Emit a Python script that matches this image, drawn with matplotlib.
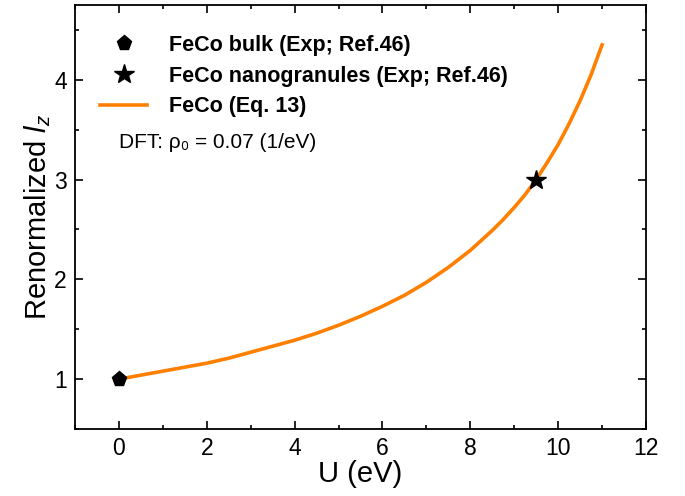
import matplotlib
matplotlib.use('Agg')
import matplotlib.pyplot as plt
from matplotlib.ticker import MultipleLocator

plt.rcParams['font.family'] = ['Liberation Sans', 'DejaVu Sans']
plt.rcParams['mathtext.fontset'] = 'custom'
plt.rcParams['mathtext.rm'] = 'Liberation Sans'
plt.rcParams['mathtext.it'] = 'Liberation Sans:italic'

# curve
u_curve = [0, 0.5, 1, 1.5, 2, 2.5, 3, 3.5, 4, 4.5, 5, 5.5, 6, 6.5, 7, 7.5,
           8, 8.25, 8.5, 8.75, 9, 9.25, 9.5, 9.75, 10, 10.25, 10.5, 10.75, 11]
lz_curve = [1.00, 1.04, 1.08, 1.12, 1.16, 1.21, 1.27, 1.33, 1.39, 1.46, 1.54,
            1.63, 1.73, 1.84, 1.97, 2.12, 2.29, 2.39, 2.49, 2.60, 2.72, 2.85,
            3.00, 3.17, 3.35, 3.56, 3.79, 4.05, 4.35]

u_bulk = [0]
lz_bulk = [1]
u_nano = [9.5]
lz_nano = [3]

fig = plt.figure(figsize=(6.85, 4.96), dpi=100)
ax = fig.add_axes([0.1095, 0.135, 0.8335, 0.855])

ax.plot(u_bulk, lz_bulk, linestyle='none', marker='p', color='black',
        markersize=11, label='FeCo bulk (Exp; Ref.46)', zorder=3)
ax.plot(u_nano, lz_nano, linestyle='none', marker='*', color='black',
        markersize=15, label='FeCo nanogranules (Exp; Ref.46)', zorder=3)
ax.plot(u_curve, lz_curve, color='#ff8000', lw=2.6, label='FeCo (Eq. 13)', zorder=2)

ax.set_xlim(-1, 12)
ax.set_ylim(0.5, 4.75)
ax.xaxis.set_major_locator(MultipleLocator(2))
ax.xaxis.set_minor_locator(MultipleLocator(1))
ax.yaxis.set_major_locator(MultipleLocator(1))
ax.yaxis.set_minor_locator(MultipleLocator(0.5))
ax.tick_params(which='both', direction='in', top=True, right=True, width=1.2)
ax.tick_params(which='major', length=6, labelsize=16.5, pad=6)
ax.tick_params(which='minor', length=3)
ax.tick_params(axis='x', labeltop=False)
ax.tick_params(axis='y', labelright=False)
for s in ax.spines.values():
    s.set_linewidth(1.3)

ax.set_xlabel('U (eV)', fontsize=21, labelpad=0)
ax.set_ylabel(r'Renormalized $l_z$', fontsize=21, labelpad=1)

leg = ax.legend(loc='upper left', frameon=False, prop={'weight': 'bold', 'size': 15.5},
                bbox_to_anchor=(0.01, 0.975), handlelength=2.2, handletextpad=1.0,
                labelspacing=0.45)
ax.text(0.077, 0.675, 'DFT: ρ₀ = 0.07 (1/eV)', transform=ax.transAxes, fontsize=15,
        va='center', ha='left')

fig.savefig('out.png', dpi=100)
